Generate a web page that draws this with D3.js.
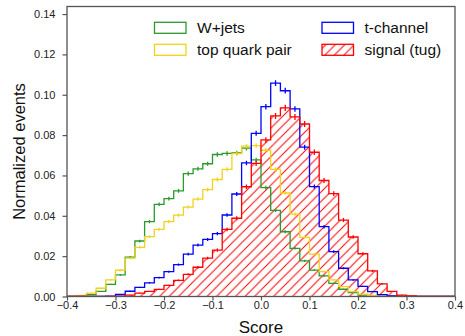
<!DOCTYPE html>
<html>
<head>
<meta charset="utf-8">
<script src="https://cdn.jsdelivr.net/npm/d3@7"></script>
<style>
  html, body { margin: 0; padding: 0; background: #fff; }
  svg { display: block; font-family: "Liberation Sans", Arial, Helvetica, sans-serif; }
</style>
</head>
<body>
<svg id="chart" width="465" height="336"></svg>
<script>
// ---- data (normalized fraction per bin, 40 bins of width 0.02 from -0.4 to 0.4) ----
const binStart = -0.4;
const binWidth = 0.02;

const wjets = [
  0, 0.0003, 0.0009, 0.0025, 0.006, 0.0107, 0.0195, 0.0275, 0.0371, 0.0457,
  0.0485, 0.0524, 0.0609, 0.0633, 0.0658, 0.0704, 0.0709, 0.0712, 0.0735, 0.0677,
  0.054, 0.0427, 0.0321, 0.0239, 0.0177, 0.0131, 0.0102, 0.0065, 0.0036, 0.0019,
  0.0007, 0.0003, 0, 0, 0, 0, 0, 0, 0, 0];

const topPair = [
  0.0002, 0.0005, 0.0017, 0.0041, 0.0082, 0.013, 0.019, 0.0244, 0.0297, 0.0333,
  0.0371, 0.0403, 0.0443, 0.0483, 0.053, 0.058, 0.063, 0.0708, 0.0745, 0.0748,
  0.0725, 0.063, 0.0513, 0.0408, 0.0293, 0.021, 0.0123, 0.0082, 0.0049, 0.0024,
  0.0012, 0.0005, 0.0002, 0, 0, 0, 0, 0, 0, 0];

const tChannel = [
  0, 0, 0, 0, 0.0002, 0.001, 0.0026, 0.0045, 0.0068, 0.0094,
  0.0123, 0.0158, 0.021, 0.0255, 0.0283, 0.0312, 0.0404, 0.0508, 0.0662, 0.0809,
  0.0941, 0.1058, 0.102, 0.093, 0.074, 0.0545, 0.0346, 0.0222, 0.014, 0.0082,
  0.005, 0.0024, 0.0009, 0.0003, 0, 0, 0, 0, 0, 0];

const signalTug = [
  0, 0, 0, 0, 0, 0.0002, 0.0007, 0.0017, 0.0025, 0.0035,
  0.0055, 0.008, 0.011, 0.0145, 0.019, 0.023, 0.0333, 0.0388, 0.0544, 0.066,
  0.0776, 0.0895, 0.0935, 0.089, 0.0855, 0.0715, 0.0575, 0.051, 0.0379, 0.0295,
  0.0212, 0.0127, 0.0063, 0.0025, 0.0007, 0.0003, 0, 0, 0, 0];

// effective sample sizes used for the statistical error bars
const sampleSizes = [60000, 60000, 50000, 40000];

const seriesNames = ["W+jets", "top quark pair", "t-channel", "signal (tug)"];
const seriesColors = ["#2a9a2a", "#f2d21b", "#0000ff", "#ff0000"];

const xTicks = [-0.4, -0.3, -0.2, -0.1, 0.0, 0.1, 0.2, 0.3, 0.4];
const yTicks = [0.00, 0.02, 0.04, 0.06, 0.08, 0.10, 0.12, 0.14];

const xLabel = "Score";
const yLabel = "Normalized events";

// ---- drawing ----
const svg = d3.select("#chart");
const L = 67, R = 455, T = 6.5, B = 296.5;

const x = d3.scaleLinear().domain([-0.4, 0.4]).range([L, R]);
const y = d3.scaleLinear().domain([0, 0.14375]).range([B, T]);

const allSeries = [wjets, topPair, tChannel, signalTug];

function stepPoints(vals) {
  const pts = [[binStart, 0]];
  vals.forEach((v, i) => {
    const e0 = binStart + i * binWidth, e1 = e0 + binWidth;
    pts.push([e0, v]); pts.push([e1, v]);
  });
  pts.push([binStart + vals.length * binWidth, 0]);
  return pts;
}
const line = d3.line().x(d => x(d[0])).y(d => y(d[1]));

// hatch pattern
const defs = svg.append("defs");
const hs = 9.5;
defs.append("pattern")
  .attr("id", "hatch").attr("patternUnits", "userSpaceOnUse")
  .attr("width", hs).attr("height", hs)
  .append("path")
  .attr("d", `M0,${hs} L${hs},0 M${-hs/4},${hs/4} L${hs/4},${-hs/4} M${hs*0.75},${hs*1.25} L${hs*1.25},${hs*0.75}`)
  .attr("stroke", seriesColors[3]).attr("stroke-width", 1).attr("fill", "none");

defs.append("clipPath").attr("id", "plotclip")
  .append("rect").attr("x", L).attr("y", T).attr("width", R - L).attr("height", B - T);

const plot = svg.append("g").attr("clip-path", "url(#plotclip)");

// hatched fill of signal
plot.append("path")
  .attr("d", line(stepPoints(signalTug)) + "Z")
  .attr("fill", "url(#hatch)").attr("stroke", "none");

// step outlines + error bars
allSeries.forEach((vals, k) => {
  plot.append("path")
    .attr("d", line(stepPoints(vals)))
    .attr("fill", "none")
    .attr("stroke", seriesColors[k])
    .attr("stroke-width", 1.3)
    .attr("stroke-linejoin", "miter");
  const n = sampleSizes[k];
  plot.append("g").selectAll("line")
    .data(vals.map((v, i) => ({ c: binStart + (i + 0.5) * binWidth, v })).filter(d => d.v > 0))
    .join("line")
    .attr("x1", d => x(d.c)).attr("x2", d => x(d.c))
    .attr("y1", d => y(d.v - Math.sqrt(d.v / n)))
    .attr("y2", d => y(d.v + Math.sqrt(d.v / n)))
    .attr("stroke", seriesColors[k]).attr("stroke-width", 1.3);
});

// axes
const axisColor = "#555";
const gx = svg.append("g").attr("transform", `translate(0,${B})`)
  .call(d3.axisBottom(x).tickValues(xTicks).tickFormat(d3.format(".1f")).tickSize(4).tickPadding(0.5));
const gy = svg.append("g").attr("transform", `translate(${L},0)`)
  .call(d3.axisLeft(y).tickValues(yTicks).tickFormat(d3.format(".2f")).tickSize(4.5).tickPadding(7));
[gx, gy].forEach(g => {
  g.select(".domain").remove();
  g.selectAll(".tick line").attr("stroke", axisColor).attr("stroke-width", 1.2);
  g.selectAll(".tick text").attr("fill", "#222").style("font-size", "11px")
    .style("font-family", "'Liberation Sans', Arial, sans-serif");
});

// frame
svg.append("rect").attr("x", L).attr("y", T).attr("width", R - L).attr("height", B - T)
  .attr("fill", "none").attr("stroke", axisColor).attr("stroke-width", 1.3);

// axis titles
svg.append("text").attr("x", (L + R) / 2).attr("y", 333)
  .attr("text-anchor", "middle").style("font-size", "17px").attr("fill", "#111").text(xLabel);
svg.append("text").attr("transform", `translate(25,${(T + B) / 2}) rotate(-90)`)
  .attr("text-anchor", "middle").style("font-size", "16.5px").attr("fill", "#111").text(yLabel);

// legend (2 columns, column-wise order)
const legendPos = [[154.5, 22.3], [154.5, 44.3], [322, 22.3], [322, 44.3]];
const legendOrder = [0, 1, 2, 3];
legendOrder.forEach((k, j) => {
  const [lx, ly] = legendPos[j];
  const g = svg.append("g");
  g.append("rect").attr("x", lx).attr("y", ly).attr("width", 31.5).attr("height", 11)
    .attr("fill", k === 3 ? "url(#hatch)" : "none")
    .attr("stroke", seriesColors[k]).attr("stroke-width", 1.3);
  g.append("text").attr("x", lx + 42.5).attr("y", ly + 10.2)
    .style("font-size", "15.5px").attr("fill", "#111").text(seriesNames[k]);
});
</script>
</body>
</html>
